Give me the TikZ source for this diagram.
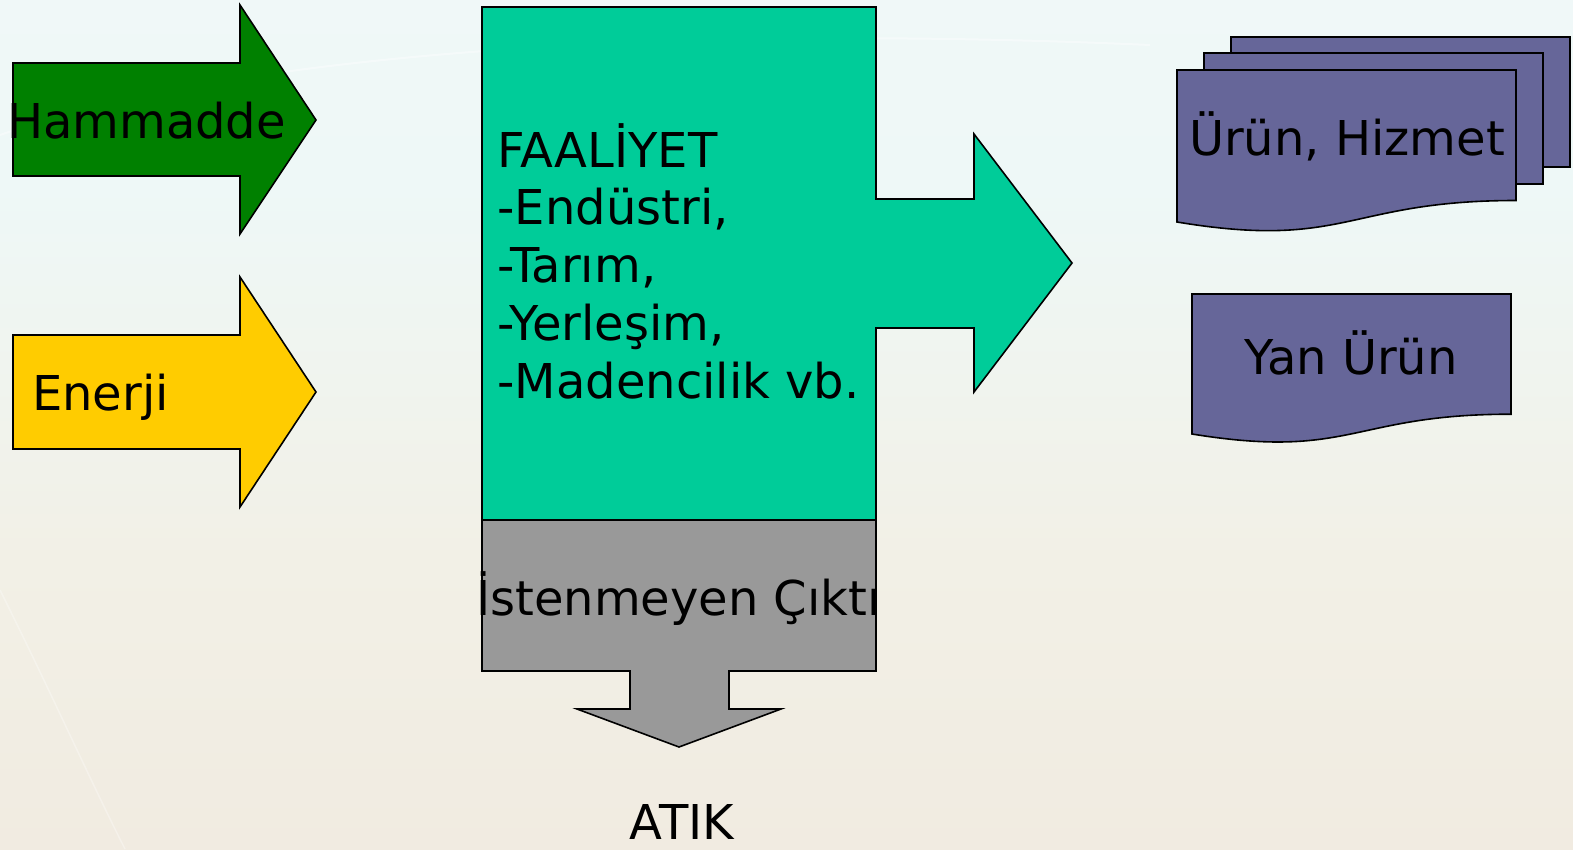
\documentclass[tikz,border=0pt]{standalone}
\usepackage{fontspec}
\setmainfont{DejaVu Sans}
\definecolor{hamgreen}{RGB}{0,128,0}
\definecolor{enyellow}{RGB}{255,204,0}
\definecolor{facteal}{RGB}{0,204,153}
\definecolor{outgray}{RGB}{153,153,153}
\definecolor{docpurple}{RGB}{102,102,153}
\definecolor{bgtop}{RGB}{244,249,249}
\definecolor{bglight}{RGB}{238,248,247}
\definecolor{bgmid}{RGB}{242,240,230}
\definecolor{bgbot}{RGB}{239,228,217}
% backdrop: bluish white at the top, warm beige below
\pgfdeclareverticalshading{backdrop}{100bp}{color(0bp)=(bgbot); color(42bp)=(bgmid); color(64bp)=(bglight); color(100bp)=(bgtop)}
\begin{document}
\begin{tikzpicture}[x=1pt,y=-1pt,
  shapebox/.style={draw=black,line width=1.6pt,line join=miter},
  lbl/.style={inner sep=0pt,outer sep=0pt,font=\fontsize{48}{57.5}\selectfont}]
\useasboundingbox (0,0) rectangle (1573,849);
% background
\begin{scope}[yscale=-1]
  \shade[shading=backdrop] (0,0) rectangle (1573,-849);
\end{scope}
\draw[white,opacity=0.4,line width=2pt] (0,135) .. controls (250,48) and (700,25) .. (1150,45);
\draw[white,opacity=0.3,line width=1.5pt] (0,590) .. controls (50,690) and (90,780) .. (125,849);

% input arrows
\path[shapebox,fill=hamgreen] (13,63) -- (240,63) -- (240,5) -- (316,120) -- (240,234) -- (240,176) -- (13,176) -- cycle;
\path[shapebox,fill=enyellow] (13,335) -- (240,335) -- (240,277) -- (316,392) -- (240,507) -- (240,449) -- (13,449) -- cycle;

% activity block with output arrow
\path[shapebox,fill=facteal] (482,7) -- (876,7) -- (876,199) -- (974,199) -- (974,134) -- (1072,263)
  -- (974,392) -- (974,328) -- (876,328) -- (876,520) -- (482,520) -- cycle;
% unwanted output block with down arrow
\path[shapebox,fill=outgray] (482,520) -- (876,520) -- (876,671) -- (729,671) -- (729,709) -- (781,709)
  -- (679,747) -- (577,709) -- (630,709) -- (630,671) -- (482,671) -- cycle;

% product documents
\path[shapebox,fill=docpurple] (1231,37) rectangle (1570,167);
\path[shapebox,fill=docpurple] (1204,53) rectangle (1543,184);
\path[shapebox,fill=docpurple] (1177,70) -- (1516,70) -- (1516,200.5)
  .. controls (1346.5,200.5) and (1346.5,250.2) .. (1177,222) -- cycle;
\path[shapebox,fill=docpurple] (1192,294) -- (1511,294) -- (1511,414.2)
  .. controls (1351.5,414.2) and (1351.5,460) .. (1192,434) -- cycle;

% labels
\node[lbl,anchor=base west] (ham) at (7,138) {Hammadde};
\node[lbl,anchor=base west] (ene) at (32,410) {Enerji};
\node[lbl,anchor=base west] (fa1) at (497.5,167) {FAALİYET};
\node[lbl,anchor=base west] (fa2) at (497.5,224.75) {-Endüstri,};
\node[lbl,anchor=base west] (fa3) at (497.5,282.5) {-Tarım,};
\node[lbl,anchor=base west] (fa4) at (497.5,340.25) {-Yerleşim,};
\node[lbl,anchor=base west] (fa5) at (497.5,398) {-Madencilik vb.};
\node[lbl,anchor=base] (ist) at (678.5,615) {İstenmeyen Çıktı};
\node[lbl,anchor=base] (atik) at (682,839) {ATIK};
\node[lbl,anchor=base] (urun) at (1347,155) {Ürün, Hizmet};
\node[lbl,anchor=base] (yan) at (1351,374) {Yan Ürün};
\end{tikzpicture}
\end{document}
